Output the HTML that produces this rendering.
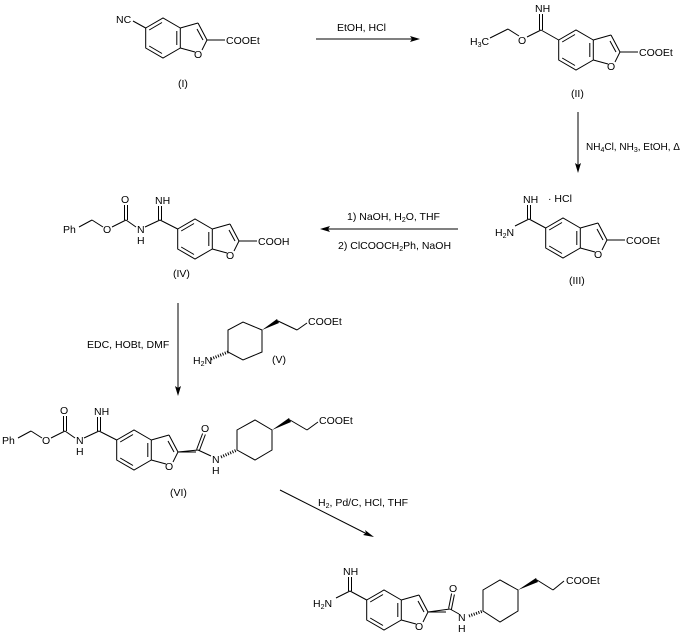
<!DOCTYPE html>
<html><head><meta charset="utf-8"><style>
html,body{margin:0;padding:0;background:#fff}
svg{display:block}
text{font-family:"Liberation Sans",Arial,sans-serif;font-size:10.5px;fill:#000}
.s{font-size:7px}
</style></head><body>
<svg width="683" height="639" viewBox="0 0 683 639" xmlns="http://www.w3.org/2000/svg">
<defs>
<g id="bf" stroke="#000" stroke-width="1" fill="none">
<polyline points="17.3,-10 0,-20 -17.3,-10 -17.3,10 0,20 17.3,10 17.3,-10"/>
<line x1="-13.8" y1="-8" x2="-1" y2="-15.5"/>
<line x1="-13.8" y1="8" x2="-1" y2="15.5"/>
<line x1="13.8" y1="-7" x2="13.8" y2="7"/>
<line x1="17.3" y1="-10" x2="35" y2="-15"/>
<line x1="35" y1="-15" x2="44" y2="2"/>
<line x1="34" y1="-9" x2="40" y2="2"/>
<line x1="17.3" y1="10" x2="32" y2="14"/>
<line x1="39" y1="12" x2="44" y2="2"/>
<line x1="44" y1="2" x2="62" y2="2"/>
</g>
<g id="bfo"><use href="#bf"/><text x="31" y="20">O</text></g>
<g id="cbz" stroke="#000" stroke-width="1" fill="none">
<line x1="177.7" y1="229" x2="160" y2="220"/>
<line x1="158.5" y1="220" x2="158.5" y2="206"/>
<line x1="161.5" y1="220" x2="161.5" y2="206"/>
<line x1="160" y1="220" x2="145" y2="227"/>
<line x1="136" y1="227" x2="126" y2="220"/>
<line x1="124.5" y1="220" x2="124.5" y2="205"/>
<line x1="127.5" y1="220" x2="127.5" y2="205"/>
<line x1="126" y1="220" x2="112" y2="227"/>
<line x1="103" y1="227" x2="92" y2="220"/>
<line x1="92" y1="220" x2="79" y2="227"/>
</g>
<g id="cbzt"><use href="#cbz"/>
<text x="155" y="204">NH</text><text x="137" y="233">N</text><text x="137" y="244">H</text>
<text x="121" y="203">O</text><text x="103" y="233">O</text><text x="63" y="233">Ph</text></g>
</defs>

<use href="#bfo" x="163" y="38"/>
<line x1="145.7" y1="28" x2="133" y2="21" stroke="#000"/>
<text x="116" y="23">NC</text>
<text x="226" y="44">COOEt</text>
<text x="178" y="87">(I)</text>

<line x1="316" y1="39" x2="414" y2="39" stroke="#000"/>
<polygon points="420,39 410,36 412,39 410,42"/>
<text x="337" y="31">EtOH, HCl</text>

<use href="#bfo" x="576" y="50"/>
<text x="639" y="56">COOEt</text>
<g stroke="#000" fill="none">
<line x1="558.7" y1="40" x2="541" y2="30"/>
<line x1="539.5" y1="30" x2="539.5" y2="14"/>
<line x1="542.5" y1="30" x2="542.5" y2="14"/>
<line x1="541" y1="30" x2="527" y2="37"/>
<line x1="519" y1="36" x2="508" y2="29"/>
<line x1="508" y1="29" x2="490" y2="38"/>
</g>
<text x="535" y="12">NH</text>
<text x="518" y="44">O</text>
<text x="470" y="45">H<tspan class="s" dy="2">3</tspan><tspan dy="-2">C</tspan></text>
<text x="571" y="97">(II)</text>

<line x1="578" y1="112" x2="578" y2="166" stroke="#000"/>
<polygon points="578,173 575,163 578,165 581,163"/>
<text x="586" y="150" style="font-size:10px">NH<tspan class="s" dy="2">4</tspan><tspan dy="-2">Cl, NH</tspan><tspan class="s" dy="2">3</tspan><tspan dy="-2">, EtOH, Δ</tspan></text>

<use href="#bfo" x="563" y="238"/>
<text x="626" y="244">COOEt</text>
<g stroke="#000" fill="none">
<line x1="545.7" y1="228" x2="529" y2="219"/>
<line x1="527.5" y1="219" x2="527.5" y2="205"/>
<line x1="530.5" y1="219" x2="530.5" y2="205"/>
<line x1="529" y1="219" x2="515" y2="226"/>
</g>
<text x="523" y="203">NH</text>
<text x="495" y="236">H<tspan class="s" dy="2">2</tspan><tspan dy="-2">N</tspan></text>
<text x="548" y="202">· HCl</text>
<text x="569" y="284">(III)</text>

<line x1="326" y1="229" x2="458" y2="229" stroke="#000"/>
<polygon points="320,229 330,226 328,229 330,232"/>
<text x="347" y="220">1) NaOH, H<tspan class="s" dy="2">2</tspan><tspan dy="-2">O, THF</tspan></text>
<text x="338" y="249">2) ClCOOCH<tspan class="s" dy="2">2</tspan><tspan dy="-2">Ph, NaOH</tspan></text>

<use href="#bfo" x="195" y="239"/>
<use href="#cbzt"/>
<text x="258" y="245">COOH</text>
<text x="173" y="277">(IV)</text>

<line x1="178" y1="303" x2="178" y2="389" stroke="#000"/>
<polygon points="178,396 175,386 178,388 181,386"/>
<text x="87" y="348">EDC, HOBt, DMF</text>

<g stroke="#000" fill="none">
<polygon points="228,352 228,330 243,322 262,330 262,352 243,360"/>
<line x1="278" y1="321" x2="297" y2="330"/>
<line x1="297" y1="330" x2="307" y2="323"/>
<line x1="211" y1="359" x2="228" y2="352" stroke-width="3" stroke-dasharray="1,1.5"/>
</g>
<polygon points="262,330 277,319 279,323"/>
<text x="308" y="325">COOEt</text>
<text x="193" y="364">H<tspan class="s" dy="2">2</tspan><tspan dy="-2">N</tspan></text>
<text x="272" y="363">(V)</text>

<use href="#bfo" x="134" y="450"/>
<use href="#cbzt" x="-61" y="211"/>
<g stroke="#000" fill="none">
<line x1="178" y1="452" x2="198" y2="450"/>
<line x1="196.6" y1="449.5" x2="202.6" y2="433.5"/>
<line x1="199.4" y1="450.5" x2="205.4" y2="434.5"/>
<line x1="198" y1="450" x2="211" y2="456"/>
<line x1="221" y1="457" x2="237" y2="450" stroke-width="3" stroke-dasharray="1,1.5"/>
<polygon points="237,450 237,430 255,420 272,430 272,450 255,460"/>
<line x1="290" y1="420" x2="307" y2="430"/>
<line x1="307" y1="430" x2="318" y2="422"/>
</g>
<polygon points="272,430 289,418 291,422"/>
<text x="201" y="432">O</text>
<text x="212" y="463">N</text><text x="212" y="474">H</text>
<text x="319" y="424">COOEt</text>
<text x="170" y="496">(VI)</text>

<line x1="280" y1="490" x2="367" y2="534" stroke="#000"/>
<polygon points="374,537 363,535 366,533 365,530"/>
<text x="318" y="506">H<tspan class="s" dy="2">2</tspan><tspan dy="-2">, Pd/C, HCl, THF</tspan></text>

<use href="#bfo" x="384" y="610"/>
<g stroke="#000" fill="none">
<line x1="366.7" y1="600" x2="350" y2="591"/>
<line x1="348.5" y1="591" x2="348.5" y2="577"/>
<line x1="351.5" y1="591" x2="351.5" y2="577"/>
<line x1="350" y1="591" x2="336" y2="598"/>
<line x1="428" y1="612" x2="450" y2="609"/>
<line x1="448.6" y1="608.5" x2="451.6" y2="593.5"/>
<line x1="451.4" y1="609.5" x2="454.4" y2="594.5"/>
<line x1="450" y1="609" x2="459" y2="614"/>
<line x1="469" y1="616" x2="483" y2="611" stroke-width="3" stroke-dasharray="1,1.5"/>
<polygon points="483,611 483,590 500,580 518,590 518,611 500,622"/>
<line x1="537" y1="580" x2="553" y2="590"/>
<line x1="553" y1="590" x2="564" y2="581"/>
</g>
<polygon points="518,590 536,578 538,582"/>
<text x="343" y="575">NH</text>
<text x="313" y="607">H<tspan class="s" dy="2">2</tspan><tspan dy="-2">N</tspan></text>
<text x="449" y="592">O</text>
<text x="458" y="621">N</text><text x="458" y="632">H</text>
<text x="566" y="584">COOEt</text>
</svg>
</body></html>
